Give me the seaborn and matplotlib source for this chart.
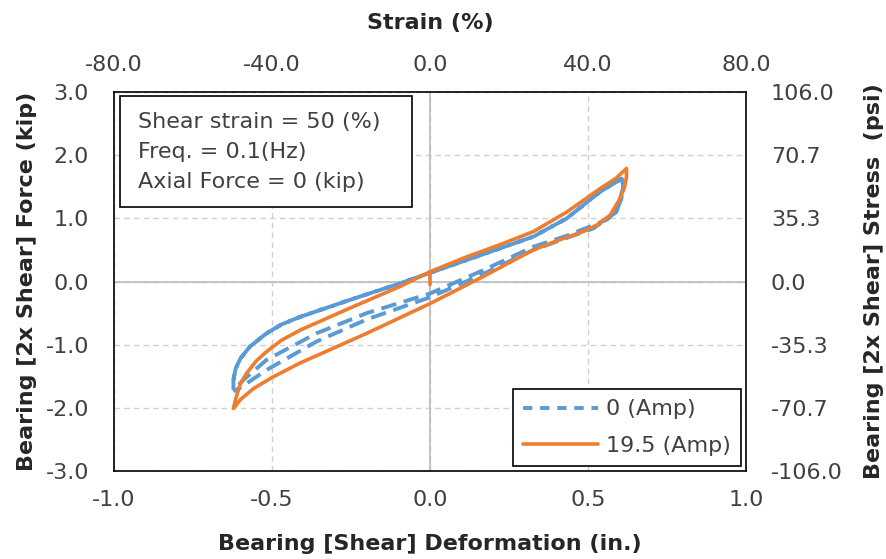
import matplotlib
matplotlib.use("Agg")
import matplotlib.pyplot as plt
import seaborn as sns
import pandas as pd
from matplotlib.patches import Rectangle

# --- data (deformation in., force kip) ---
# 19.5 Amp test, one full cycle starting at the origin
orange_load_x = [0.0, 0.0, 0.116, 0.220, 0.327, 0.433, 0.538, 0.590, 0.622]
orange_load_y = [-0.05, 0.155, 0.39, 0.58, 0.79, 1.10, 1.47, 1.64, 1.79]
orange_unload_x = [0.622, 0.615, 0.600, 0.570, 0.530, 0.485, 0.410, 0.327, 0.169, 0.0,
                   -0.200, -0.411, -0.500, -0.560, -0.600, -0.622]
orange_unload_y = [1.66, 1.48, 1.30, 1.05, 0.90, 0.79, 0.66, 0.50, 0.08, -0.35,
                   -0.82, -1.29, -1.52, -1.70, -1.87, -2.01]
orange_reload_x = [-0.615, -0.600, -0.580, -0.550, -0.517, -0.470, -0.411, -0.253, -0.095, 0.0]
orange_reload_y = [-1.86, -1.62, -1.45, -1.26, -1.11, -0.93, -0.77, -0.42, -0.08, 0.155]

# 0 Amp test, two cycles
blue_load_x = [-0.622, -0.615, -0.600, -0.570, -0.517, -0.470, -0.411, -0.253, -0.095,
               0.116, 0.327, 0.433, 0.538, 0.607]
blue_load_y = [-1.56, -1.38, -1.22, -1.03, -0.82, -0.68, -0.56, -0.29, -0.03,
               0.34, 0.71, 1.00, 1.42, 1.63]
blue_unload1_x = [0.612, 0.605, 0.591, 0.560, 0.517, 0.430, 0.327, 0.169, 0.0,
                  -0.200, -0.359, -0.517, -0.591, -0.622]
blue_unload1_y = [1.50, 1.30, 1.13, 0.98, 0.89, 0.72, 0.55, 0.18, -0.19,
                  -0.50, -0.82, -1.24, -1.56, -1.72]
blue_unload2_x = [0.612, 0.590, 0.517, 0.327, 0.169, 0.0, -0.200, -0.359, -0.517, -0.600, -0.622]
blue_unload2_y = [1.50, 1.10, 0.84, 0.50, 0.12, -0.25, -0.60, -0.95, -1.40, -1.68, -1.74]

x_ticks = [-1.0, -0.5, 0.0, 0.5, 1.0]
y_ticks = [-3.0, -2.0, -1.0, 0.0, 1.0, 2.0, 3.0]
strain_ticks = [-80.0, -40.0, 0.0, 40.0, 80.0]
stress_ticks = [-106.0, -70.7, -35.3, 0.0, 35.3, 70.7, 106.0]

blue_x = blue_load_x + blue_unload1_x + blue_load_x + blue_unload2_x
blue_y = blue_load_y + blue_unload1_y + blue_load_y + blue_unload2_y
orange_x = orange_load_x + orange_unload_x + orange_reload_x
orange_y = orange_load_y + orange_unload_y + orange_reload_y

df_blue = pd.DataFrame({"def": blue_x, "force": blue_y})
df_orange = pd.DataFrame({"def": orange_x, "force": orange_y})

sns.set_style("white")
plt.rcParams["font.family"] = ["DejaVu Sans"]
FS = 16
TICK_COLOR = "#404040"
BLUE = "#5B9BD5"
ORANGE = "#ED7D31"

fig = plt.figure(figsize=(8.87, 5.59), dpi=100)
ax = fig.add_axes([0.1285, 0.1574, 0.7125, 0.678])

# grid
ax.grid(True, linestyle=(0, (4, 3)), color="#d0d0d0", linewidth=1)
ax.axvline(0, color="#bfbfbf", lw=1.3, zorder=1)
ax.axhline(0, color="#bfbfbf", lw=1.3, zorder=1)

sns.lineplot(data=df_blue, x="def", y="force", sort=False, estimator=None,
             color=BLUE, lw=2.8, ax=ax, label="0 (Amp)", zorder=3)
ax.lines[-1].set_dashes((4.0, 2.0))
sns.lineplot(data=df_orange, x="def", y="force", sort=False, estimator=None,
             color=ORANGE, lw=2.6, ax=ax, label="19.5 (Amp)", zorder=4)

ax.set_xlim(-1, 1)
ax.set_ylim(-3, 3)
ax.set_xticks(x_ticks)
ax.set_yticks(y_ticks)
ax.set_xticklabels([f"{v:.1f}" for v in x_ticks])
ax.set_yticklabels([f"{v:.1f}" for v in y_ticks])
ax.tick_params(length=0, labelsize=FS, colors=TICK_COLOR, pad=14)
ax.tick_params(axis="y", pad=18)
ax.set_xlabel("Bearing [Shear] Deformation (in.)", fontsize=FS, fontweight="bold", labelpad=17)
ax.set_ylabel("Bearing [2x Shear] Force (kip)", fontsize=FS, fontweight="bold", labelpad=6)
for s in ax.spines.values():
    s.set_color("black")
    s.set_linewidth(1.2)

# top axis: strain
axt = ax.twiny()
axt.set_xlim(-80, 80)
axt.set_xticks(strain_ticks)
axt.set_xticklabels([f"{v:.1f}" for v in strain_ticks])
axt.tick_params(length=0, labelsize=FS, colors=TICK_COLOR, pad=12)
axt.set_xlabel("Strain (%)", fontsize=FS, fontweight="bold", labelpad=19)

# right axis: stress
axr = ax.twinx()
axr.set_ylim(-106, 106)
axr.set_yticks(stress_ticks)
axr.set_yticklabels([f"{v:.1f}" for v in stress_ticks])
axr.tick_params(length=0, labelsize=FS, colors=TICK_COLOR, pad=18)
axr.set_ylabel("Bearing [2x Shear] Stress  (psi)", fontsize=FS, fontweight="bold", labelpad=15)
for a in (axt, axr):
    for s in a.spines.values():
        s.set_visible(False)

# legend
leg = ax.legend(loc="lower right", fontsize=FS, frameon=True, fancybox=False,
                edgecolor="black", framealpha=1, borderaxespad=0.22,
                handlelength=3.4, handletextpad=0.35, labelspacing=0.75, borderpad=0.45)
leg.get_frame().set_linewidth(1.2)
leg.get_lines()[0].set_dashes((2.4, 2.0))
for t in leg.get_texts():
    t.set_color(TICK_COLOR)

# annotation box
ax.add_patch(Rectangle((0.0095, 0.696), 0.462, 0.293, transform=ax.transAxes,
                       fill=True, facecolor="white", edgecolor="black", lw=1.2, zorder=5))
ax.text(0.038, 0.947, "Shear strain = 50 (%)\nFreq. = 0.1(Hz)\nAxial Force = 0 (kip)",
        transform=ax.transAxes, ha="left", va="top", fontsize=FS, color=TICK_COLOR,
        linespacing=1.63, zorder=6)

fig.savefig("out.png", dpi=100)
